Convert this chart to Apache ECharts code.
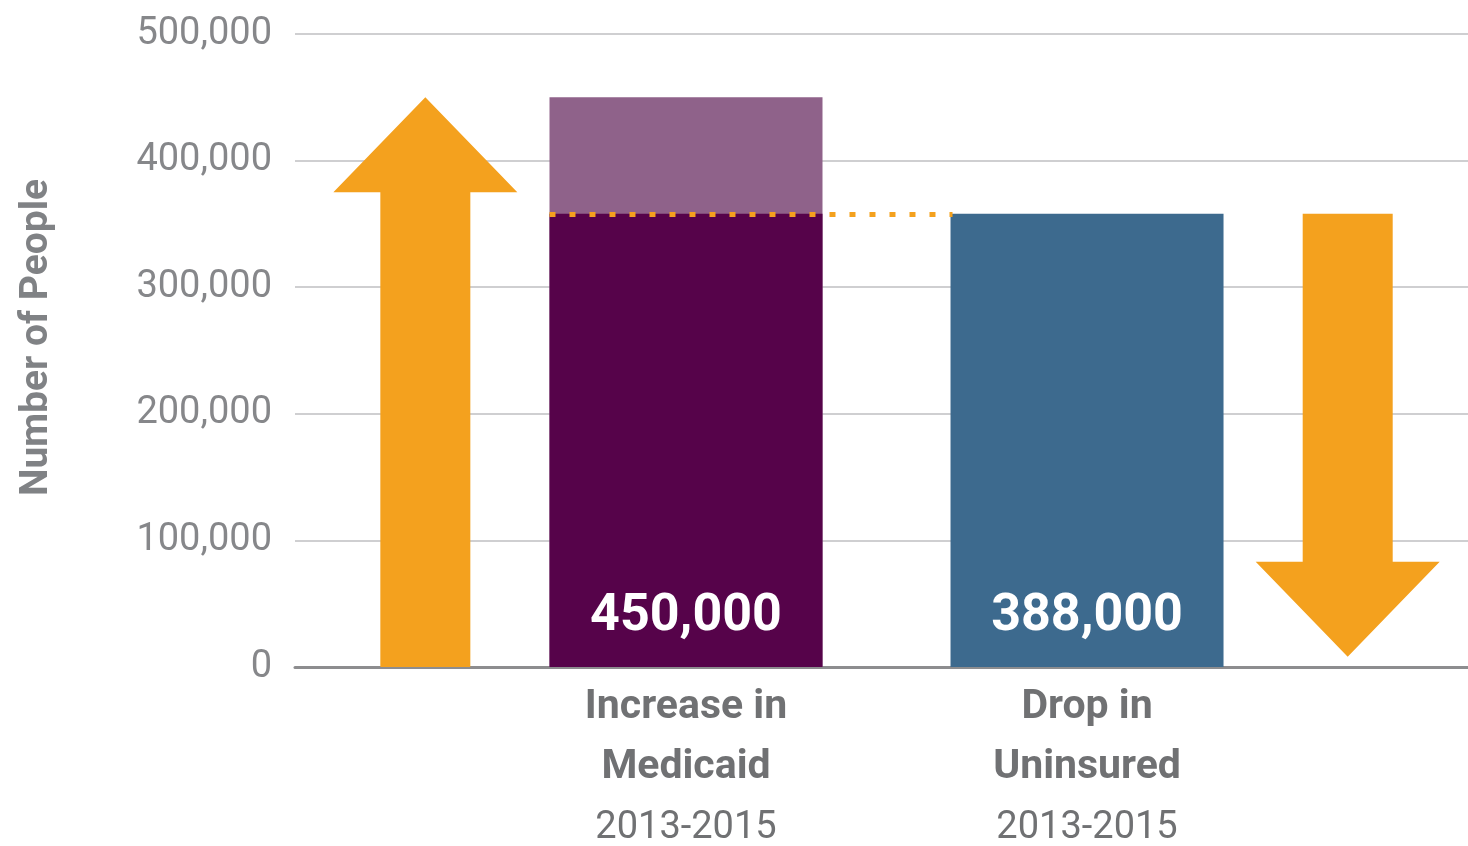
<!DOCTYPE html>
<html>
<head>
<meta charset="utf-8">
<script src="https://cdn.jsdelivr.net/npm/echarts@6.0.0/dist/echarts.min.js"></script>
<style>
  html, body { margin: 0; padding: 0; background: #fff; }
  #main { width: 1468px; height: 846px; }
</style>
</head>
<body>
<div id="main"></div>
<script>
// categories sit at x = 1 and 2 on a hidden value axis
var catPos = [1, 2];
var catTitles = [['Increase in', 'Medicaid'], ['Drop in', 'Uninsured']];
var catYears = ['2013-2015', '2013-2015'];

// drawn bar heights
var baseValues = [358000, 358000];      // dark part / uninsured bar
var totalValues = [450000];             // full medicaid bar (lighter top part)
var reported = [450000, 388000];        // numbers printed in the bars

// arrows: [x, from, to]
var arrows = [[0.35, 0, 450000], [2.65, 358000, 8000]];

var FONT = 'Roboto, "Liberation Sans", sans-serif';
var ORANGE = '#F4A11E';
var halfBar = 273 / 2 / 401;

var chart = echarts.init(document.getElementById('main'));

var option = {
    animation: false,
    grid: { left: 295, right: 0, top: 34, bottom: 179, outerBoundsMode: 'none' },
    xAxis: {
        type: 'value',
        min: 0.025,
        max: 2.95,
        splitLine: { show: false },
        axisTick: { show: false },
        axisLine: { show: true, lineStyle: { color: '#8d8d8f', width: 3 } },
        axisLabel: {
            customValues: catPos,
            margin: 11,
            formatter: function (v) {
                var i = catPos.indexOf(v);
                if (i < 0) return '';
                return '{b|' + catTitles[i][0] + '}\n{b|' + catTitles[i][1] + '}\n{n|' + catYears[i] + '}';
            },
            rich: {
                b: { fontFamily: FONT, fontSize: 41, fontWeight: 'bold', color: '#707173', lineHeight: 60 },
                n: { fontFamily: FONT, fontSize: 38, color: '#707173', lineHeight: 60 }
            }
        }
    },
    yAxis: {
        type: 'value',
        min: 0,
        max: 500000,
        interval: 100000,
        name: 'Number of People',
        nameLocation: 'middle',
        nameGap: 238,
        nameTextStyle: { fontFamily: FONT, fontSize: 39, fontWeight: 'bold', color: '#808285', padding: [0, 0, 0, 26] },
        axisLine: { show: false },
        axisTick: { show: false },
        splitLine: { lineStyle: { color: '#cfcfd1', width: 2 } },
        axisLabel: {
            margin: 23,
            fontFamily: FONT,
            fontSize: 38,
            color: '#86878a',
            formatter: function (v) { return v.toLocaleString('en-US'); }
        }
    },
    series: [
        {
            type: 'custom',
            name: 'arrows',
            data: arrows,
            renderItem: function (params, api) {
                var x = api.value(0);
                var base = api.coord([x, api.value(1)]);
                var tip = api.coord([x, api.value(2)]);
                var dir = tip[1] < base[1] ? 1 : -1;
                var shaftW = 90, headW = 184, headL = 95;
                var neck = tip[1] + dir * headL;
                var cx = base[0];
                return {
                    type: 'polygon',
                    shape: {
                        points: [
                            [cx - shaftW / 2, base[1]],
                            [cx - shaftW / 2, neck],
                            [cx - headW / 2, neck],
                            [cx, tip[1]],
                            [cx + headW / 2, neck],
                            [cx + shaftW / 2, neck],
                            [cx + shaftW / 2, base[1]]
                        ]
                    },
                    style: { fill: ORANGE }
                };
            },
            z: 3
        },
        {
            type: 'bar',
            name: 'total',
            barWidth: 273,
            barGap: '-100%',
            data: totalValues.map(function (v, i) {
                return { value: [catPos[i], v] };
            }),
            itemStyle: { color: '#8f628a' },
            z: 2
        },
        {
            type: 'bar',
            name: 'base',
            barWidth: 273,
            barGap: '-100%',
            data: baseValues.map(function (v, i) {
                return {
                    value: [catPos[i], v],
                    itemStyle: { color: i === 0 ? '#56034a' : '#3d6a8e' }
                };
            }),
            label: {
                show: true,
                position: 'insideBottom',
                distance: 24,
                fontFamily: FONT,
                fontSize: 52,
                fontWeight: 'bold',
                color: '#ffffff',
                formatter: function (p) { return reported[p.dataIndex].toLocaleString('en-US'); }
            },
            markLine: {
                silent: true,
                symbol: ['none', 'none'],
                label: { show: false },
                lineStyle: { color: ORANGE, width: 5, type: [6, 14] },
                data: [[
                    { coord: [catPos[0] - halfBar, baseValues[1]] },
                    { coord: [catPos[1] - halfBar + 0.005, baseValues[1]] }
                ]]
            },
            z: 4
        }
    ]
};

chart.setOption(option);
</script>
</body>
</html>
